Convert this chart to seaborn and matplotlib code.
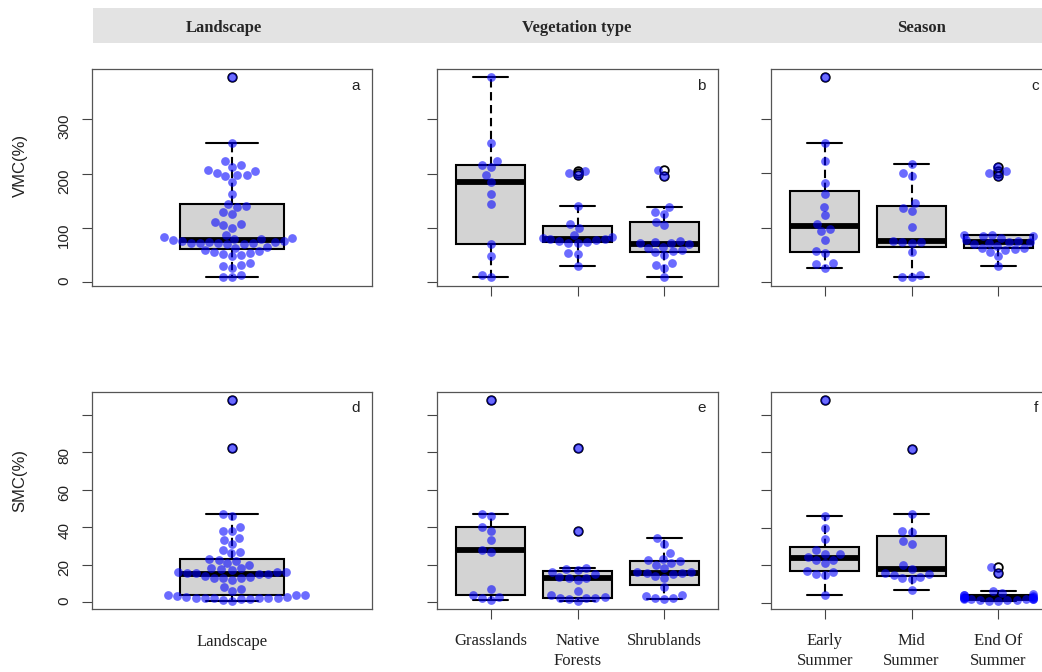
import numpy as np
import pandas as pd
import matplotlib
matplotlib.use("Agg")
import matplotlib.pyplot as plt
import matplotlib.transforms as mtransforms
from matplotlib.patches import Rectangle
import seaborn as sns

# ---------------- data ----------------
header_titles = ["Landscape", "Vegetation type", "Season"]
landscape_labels = ["Landscape"]
veg_labels = ["Grasslands", "Native\nForests", "Shrublands"]
season_labels = ["Early\nSummer", "Mid\nSummer", "End Of\nSummer"]
panel_letters = ["a", "b", "c", "d", "e", "f"]
row_labels = ["VMC(%)", "SMC(%)"]

vmc_ticks = [0, 100, 200, 300]
vmc_ticklabels = ["0", "100", "200", "300"]
smc_ticks = [0, 20, 40, 60, 80, 100]
smc_ticklabels = ["0", "20", "40", "60", "80", ""]

vmc_grasslands = [378, 256, 223, 216, 212, 198, 184, 162, 145, 70, 48, 14, 9]
vmc_native_forests = [205, 202, 197, 141, 107, 101, 87, 84, 82, 80, 79, 78,
                      76, 75, 73, 72, 54, 52, 30]
vmc_shrublands = [206, 195, 139, 130, 125, 112, 105, 76, 74, 73, 72, 70, 66,
                  63, 60, 57, 55, 50, 35, 32, 26, 9]
vmc_early = [378, 256, 223, 183, 162, 139, 123, 107, 98, 93, 78, 56, 54, 34, 33, 26]
vmc_mid = [217, 200, 195, 145, 136, 130, 101, 76, 74, 73, 72, 55, 13, 9, 8]
vmc_end = [212, 205, 200, 196, 87, 86, 85, 84, 81, 78, 76, 74, 73, 72, 70, 66,
           63, 62, 60, 58, 55, 48, 29]

smc_grasslands = [108, 47, 46, 40, 38, 33, 28, 27, 7, 4, 3, 2, 1]
smc_native_forests = [82, 38, 18, 17.5, 17, 16, 15, 13.5, 13, 13, 12, 6, 4,
                      2.5, 2.2, 2, 2, 1.8, 0.5]
smc_shrublands = [34, 31, 26, 23, 22.5, 22, 21, 20, 18, 16, 16, 15.5, 15.5,
                  15, 14, 13, 8, 4, 3.5, 2, 2, 1.8]
smc_early = [108, 46, 40, 34, 28, 26, 26, 24.5, 23, 22.5, 21, 17, 16.5, 15.5, 15, 4]
smc_mid = [82, 47, 38, 37.5, 33, 31, 20, 18, 16, 15.5, 15, 13.5, 13, 12.5, 7]
smc_end = [19, 16, 6, 5, 4.5, 4, 4, 3.5, 3, 3, 2.5, 2.5, 2.3, 2.2, 2, 2, 2,
           1.8, 1.5, 1.5, 1.2, 1, 0.8]


def long_df(labels, groups):
    rows = []
    for lab, vals in zip(labels, groups):
        for v in vals:
            rows.append((lab, v))
    return pd.DataFrame(rows, columns=["group", "value"])


vmc_veg = [vmc_grasslands, vmc_native_forests, vmc_shrublands]
vmc_season = [vmc_early, vmc_mid, vmc_end]
smc_veg = [smc_grasslands, smc_native_forests, smc_shrublands]
smc_season = [smc_early, smc_mid, smc_end]

vmc_all = [sum(vmc_veg, [])]
smc_all = [sum(smc_veg, [])]

# ---------------- style ----------------
sns.set_style("ticks")
plt.rcParams["font.family"] = ["Liberation Sans", "DejaVu Sans"]
SERIF = ["Liberation Serif", "DejaVu Serif"]
SANS = ["Liberation Sans", "DejaVu Sans"]

W, H = 1042, 672
fig = plt.figure(figsize=(W / 100, H / 100), dpi=100)
fig.patch.set_facecolor("white")


def fx(px):
    return px / W


def fy(py):
    return 1 - py / H


# panel pixel geometry
col_left = [92, 437, 771]
col_width = [280, 281, 281]
row_top = [69, 391.7]
row_bottom = [285.5, 609.3]

# header strip
fig.add_artist(Rectangle((fx(93), fy(43)), fx(W - 93), (43 - 7.5) / H,
                         transform=fig.transFigure, facecolor="#E3E3E3",
                         edgecolor="none", zorder=0))
for title, xc in zip(header_titles, [224, 577, 922]):
    fig.text(fx(xc), fy(28), title, ha="center", va="center",
             fontsize=12, fontweight="bold", family=SERIF)

# row labels
for lab, yc in zip(row_labels, [165, 480]):
    fig.text(fx(20), fy(yc), lab, rotation=90, ha="center", va="center",
             fontsize=12, family=SANS, color="#222222")

panels = [
    (0, 0, landscape_labels, vmc_all, vmc_ticks, vmc_ticklabels),
    (0, 1, veg_labels, vmc_veg, vmc_ticks, vmc_ticklabels),
    (0, 2, season_labels, vmc_season, vmc_ticks, vmc_ticklabels),
    (1, 0, landscape_labels, smc_all, smc_ticks, smc_ticklabels),
    (1, 1, veg_labels, smc_veg, smc_ticks, smc_ticklabels),
    (1, 2, season_labels, smc_season, smc_ticks, smc_ticklabels),
]

label_shift_px = {"Grasslands": -12, "Shrublands": 12, "End Of\nSummer": 4}

for idx, (r, c, labels, groups, yt, ytl) in enumerate(panels):
    left = fx(col_left[c])
    width = col_width[c] / W
    bottom = fy(row_bottom[r])
    height = (row_bottom[r] - row_top[r]) / H
    ax = fig.add_axes([left, bottom, width, height])
    df = long_df(labels, groups)
    n = len(labels)
    bw = 0.4 if n == 1 else 0.8

    sns.boxplot(data=df, x="group", y="value", order=labels, ax=ax,
                width=bw, color="#D3D3D3", linecolor="black", linewidth=1.5,
                saturation=1, whis=1.5,
                medianprops=dict(linewidth=4.2, color="black",
                                 solid_capstyle="butt"),
                whiskerprops=dict(linestyle=(0, (4, 2.2)), linewidth=1.5),
                capprops=dict(linewidth=1.5),
                flierprops=dict(marker="o", markerfacecolor="none",
                                markeredgecolor="black", markersize=6.2,
                                markeredgewidth=1.3))
    sns.swarmplot(data=df, x="group", y="value", order=labels, ax=ax,
                  color="blue", alpha=0.58, size=6.3, linewidth=0,
                  zorder=3, warn_thresh=1)

    allv = np.concatenate([np.asarray(g, dtype=float) for g in groups])
    lo, hi = allv.min(), allv.max()
    pad = 0.04 * (hi - lo)
    ax.set_ylim(lo - pad, hi + pad)
    if n == 1:
        ax.set_xlim(-0.54, 0.54)
    else:
        ax.set_xlim(-0.62, n - 1 + 0.62)

    ax.set_xlabel("")
    ax.set_ylabel("")
    ax.set_yticks(yt)
    if c == 0:
        ax.set_yticklabels(ytl, family=SANS, fontsize=11, color="#222222")
    else:
        ax.set_yticklabels([])
    ax.tick_params(axis="y", direction="out", length=7, width=0.8,
                   color="#444444", labelrotation=90, pad=8)

    if r == 1:
        ax.set_xticks(range(n))
        ax.set_xticklabels(labels, family=SERIF, fontsize=12, color="#222222",
                           linespacing=1.3)
        for lbl in ax.get_xticklabels():
            dx = label_shift_px.get(lbl.get_text(), 0)
            if dx:
                lbl.set_transform(lbl.get_transform() + mtransforms.ScaledTranslation(
                    dx / 100, 0, fig.dpi_scale_trans))
    else:
        ax.set_xticks(range(n))
        ax.set_xticklabels([])
    if n == 1:
        ax.tick_params(axis="x", length=0, pad=18)
    else:
        ax.tick_params(axis="x", direction="out", length=7, width=0.8,
                       color="#444444", pad=10)

    for sp in ax.spines.values():
        sp.set_visible(True)
        sp.set_color("#555555")
        sp.set_linewidth(0.9)

    ax.text(1 - 16.5 / col_width[c], 1 - 16.5 / (row_bottom[r] - row_top[r]),
            panel_letters[idx], transform=ax.transAxes, ha="center",
            va="center", fontsize=11, family=SANS, color="#222222")

fig.savefig("out.png", dpi=100)
